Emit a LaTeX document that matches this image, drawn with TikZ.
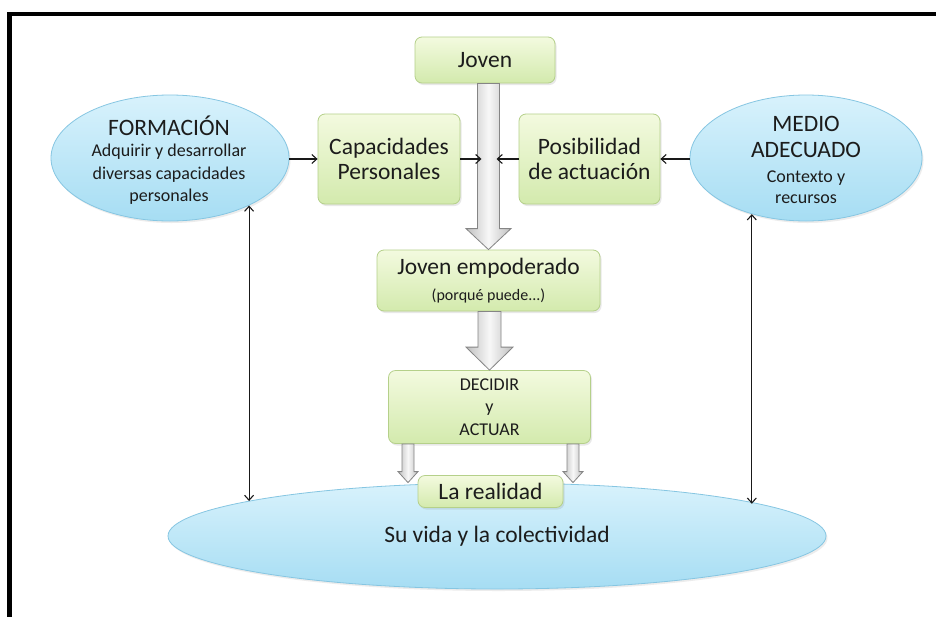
\documentclass[tikz,border=0pt]{standalone}
\usepackage{fontspec}
\setmainfont{Carlito}
\usetikzlibrary{shapes.geometric,arrows.meta,calc,shadows}
\definecolor{gtop}{HTML}{F3FADF}
\definecolor{gbot}{HTML}{D3EAAD}
\definecolor{gborder}{HTML}{B5D08A}
\definecolor{btop}{HTML}{D8F2FC}
\definecolor{bbot}{HTML}{A6DDF3}
\definecolor{bborder}{HTML}{86C6E2}
\definecolor{txt}{HTML}{1C1C1C}
\definecolor{arrgray}{HTML}{858585}
\newcommand\fsBig{\fontsize{23.5}{25}\selectfont}
\newcommand\fsMid{\fontsize{18}{22.5}\selectfont}
\newcommand\fsSmall{\fontsize{16}{18}\selectfont}
\newcommand\blkarrow[5]{%
  \path[blockarr] ($(#1)+(-#3,0)$) -- ($(#2)+(-#3,-#5)$) -- ($(#2)+(-#4,-#5)$) -- (#2)
    -- ($(#2)+(#4,-#5)$) -- ($(#2)+(#3,-#5)$) -- ($(#1)+(#3,0)$) -- cycle;}
\tikzset{
  greenbox/.style={rectangle, rounded corners=7pt, draw=gborder, line width=0.8pt,
    top color=gtop, bottom color=gbot, inner sep=0pt, align=center, text=txt,
    drop shadow={opacity=0.18, shadow xshift=1.5pt, shadow yshift=-2pt}},
  bluebox/.style={ellipse, draw=bborder, line width=0.8pt, top color=btop,
    bottom color=bbot, inner sep=0pt,
    drop shadow={opacity=0.15, shadow xshift=1.5pt, shadow yshift=-2pt}},
  txtnode/.style={inner sep=0pt, align=center, text=txt},
  blockarr/.style={draw=arrgray, line width=0.8pt, left color=gray!50,
    right color=gray!50, middle color=gray!6},
  thinarr/.style={draw=black!90, line width=1.1pt, -{Straight Barb[length=5pt,width=9pt]}},
  dblarr/.style={draw=black!90, line width=1.1pt,
    {Straight Barb[length=5pt,width=9pt]}-{Straight Barb[length=5pt,width=9pt]}}
}
\begin{document}
\begin{tikzpicture}[x=1pt,y=-1pt]
\useasboundingbox (0,0) rectangle (936,616);
\fill[white] (0,0) rectangle (936,616);
\draw[line width=4.6pt, line join=miter] (9.5,620) -- (9.5,14) -- (940,14);

% ellipses
\node[bluebox, minimum width=238pt, minimum height=126pt] (form) at (170,158) {};
\node[txtnode, font=\fsMid] (formt) at (169,160)
  {{\fsBig FORMACIÓN}\\[-1pt] Adquirir y desarrollar\\ diversas capacidades\\ personales};
\node[bluebox, minimum width=232pt, minimum height=126pt] (medio) at (806,158) {};
\node[txtnode, font=\fsMid] (mediot) at (806,160)
  {{\fsBig MEDIO}\\[4pt] {\fsBig ADECUADO}\\[2pt] Contexto y\\[-1pt] recursos};
\node[bluebox, minimum width=658pt, minimum height=106pt] (life) at (497,536)
  {\fsBig\color{txt} Su vida y la colectividad};

% green boxes
\node[greenbox, minimum width=140pt, minimum height=46pt, font=\fsBig] (joven) at (485,60) {Joven};
\node[greenbox, minimum width=142pt, minimum height=90pt, font=\fsBig] (cap) at (389,159)
  {Capacidades\\ Personales};
\node[greenbox, minimum width=141pt, minimum height=90pt, font=\fsBig] (pos) at (589.5,159)
  {Posibilidad\\ de actuación};
\node[greenbox, minimum width=223pt, minimum height=61pt, font=\fsBig] (emp) at (488.5,280.5)
  {Joven empoderado\\[1pt] {\fsSmall (porqué puede...)}};
\node[greenbox, minimum width=202pt, minimum height=73pt, font=\fsMid] (dec) at (489.5,407)
  {DECIDIR\\ y\\ ACTUAR};
\node[greenbox, minimum width=145pt, minimum height=32pt, font=\fsBig] (real) at (490.5,491.5)
  {La realidad};

% block arrows
\coordinate (a1s) at (emp.north |- joven.south);
\blkarrow{a1s}{emp.north}{11}{22.5}{21}
\coordinate (a2s) at (dec.north |- emp.south);
\blkarrow{a2s}{dec.north}{11.5}{23.5}{23}
\coordinate (s1) at ($(dec.south)+(-81.5,0)$);
\coordinate (t1) at (s1 |- life.north);
\blkarrow{s1}{t1}{6}{10}{11}
\coordinate (s2) at ($(dec.south)+(83.5,0)$);
\coordinate (t2) at (s2 |- life.north);
\blkarrow{s2}{t2}{6}{10}{11}

% thin arrows
\coordinate (shL) at ($(a1s |- cap.east)+(-7,0)$);
\coordinate (shR) at ($(a1s |- pos.west)+(8,0)$);
\draw[thinarr] (form.east |- cap.west) -- (cap.west);
\draw[thinarr] (cap.east) -- (shL);
\draw[thinarr] (pos.west) -- (shR);
\draw[thinarr] (medio.west |- pos.east) -- (pos.east);
\coordinate (fl) at (form.-31);
\coordinate (mr) at (medio.226);
\draw[dblarr] (fl) -- (fl |- life.172);
\draw[dblarr] (mr) -- (mr |- life.7.5);
\end{tikzpicture}
\end{document}
